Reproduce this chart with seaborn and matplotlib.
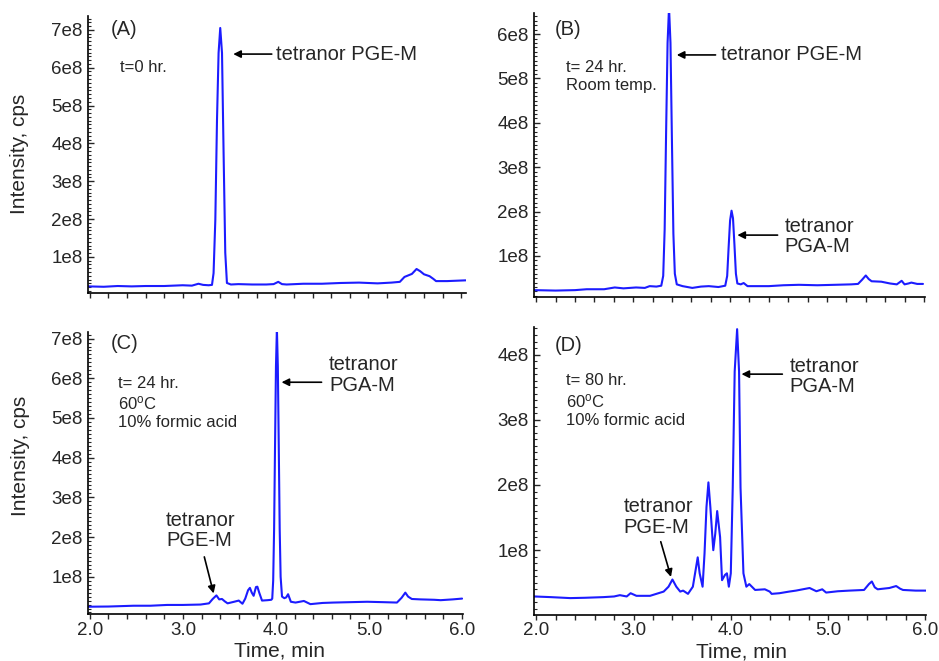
import numpy as np
import pandas as pd
import matplotlib
matplotlib.use("Agg")
import matplotlib.pyplot as plt
from matplotlib.ticker import MultipleLocator, FuncFormatter
import seaborn as sns

# chromatogram traces (time in min, intensity in 1e8 cps)
time_a = [1.98, 2.15, 2.30, 2.45, 2.60, 2.80, 3.00, 3.10, 3.17, 3.22, 3.28, 3.316, 3.333, 3.352, 3.370,
          3.387, 3.405, 3.424, 3.441, 3.459, 3.477, 3.52, 3.60, 3.75, 3.90, 3.98, 4.03, 4.07, 4.12,
          4.30, 4.50, 4.70, 4.90, 5.10, 5.25, 5.34, 5.39, 5.44, 5.47, 5.52, 5.56, 5.60, 5.66, 5.70,
          5.73, 5.85, 5.95, 6.05]
int_a = [0.22, 0.21, 0.23, 0.22, 0.23, 0.23, 0.25, 0.24, 0.29, 0.26, 0.25, 0.26, 0.57, 1.98, 4.62,
         6.39, 7.05, 6.39, 3.75, 1.11, 0.31, 0.27, 0.28, 0.27, 0.27, 0.28, 0.34, 0.28, 0.27,
         0.29, 0.29, 0.31, 0.32, 0.30, 0.32, 0.34, 0.47, 0.52, 0.55, 0.68, 0.62, 0.54, 0.49, 0.42,
         0.36, 0.36, 0.37, 0.38]

time_b = [1.98, 2.20, 2.40, 2.52, 2.70, 2.81, 2.90, 3.03, 3.12, 3.17, 3.24, 3.29, 3.31, 3.325, 3.34,
          3.355, 3.37, 3.385, 3.40, 3.415, 3.43, 3.45, 3.51, 3.61, 3.70, 3.78, 3.88, 3.95, 3.97,
          3.985, 4.00, 4.015, 4.03, 4.045, 4.06, 4.075, 4.11, 4.14, 4.18, 4.40, 4.55, 4.71, 4.90,
          5.08, 5.25, 5.32, 5.36, 5.40, 5.43, 5.46, 5.56, 5.65, 5.72, 5.77, 5.80, 5.84, 5.87, 5.93, 5.99]
int_b = [0.23, 0.22, 0.23, 0.25, 0.25, 0.29, 0.27, 0.29, 0.28, 0.32, 0.31, 0.33, 0.55, 1.6, 3.8,
         5.8, 6.6, 5.8, 3.6, 1.5, 0.6, 0.36, 0.32, 0.28, 0.31, 0.32, 0.30, 0.33, 0.55,
         1.2, 1.8, 2.02, 1.85, 1.25, 0.6, 0.38, 0.36, 0.39, 0.32, 0.32, 0.34, 0.35, 0.34,
         0.35, 0.36, 0.37, 0.46, 0.56, 0.48, 0.43, 0.42, 0.38, 0.36, 0.44, 0.36, 0.38, 0.40, 0.37, 0.37]

time_c = [1.97, 2.20, 2.47, 2.65, 2.83, 3.00, 3.19, 3.28, 3.32, 3.36, 3.39, 3.42, 3.45, 3.48, 3.55,
          3.60, 3.64, 3.67, 3.70, 3.72, 3.74, 3.76, 3.785, 3.80, 3.82, 3.85, 3.91, 3.95, 3.96, 3.97,
          3.98, 3.99, 4.00, 4.01, 4.02, 4.03, 4.04, 4.05, 4.065, 4.09, 4.11, 4.13, 4.16, 4.21, 4.30,
          4.37, 4.50, 4.62, 4.80, 4.98, 5.15, 5.30, 5.35, 5.39, 5.42, 5.46, 5.55, 5.70, 5.77, 5.90, 6.00]
int_c = [0.245, 0.25, 0.27, 0.27, 0.29, 0.29, 0.30, 0.33, 0.44, 0.53, 0.43, 0.44, 0.38, 0.33, 0.37,
         0.40, 0.32, 0.45, 0.66, 0.72, 0.60, 0.52, 0.74, 0.75, 0.60, 0.40, 0.41, 0.42, 0.45, 0.9,
         2.2, 4.3, 6.3, 7.25, 6.3, 4.3, 2.2, 1.0, 0.5, 0.46, 0.48, 0.56, 0.37, 0.35, 0.39,
         0.31, 0.34, 0.35, 0.36, 0.37, 0.36, 0.35, 0.47, 0.60, 0.50, 0.44, 0.43, 0.42, 0.41, 0.43, 0.45]

time_d = [1.98, 2.15, 2.35, 2.50, 2.69, 2.80, 2.86, 2.93, 2.97, 3.03, 3.17, 3.31, 3.36, 3.40, 3.44,
          3.48, 3.51, 3.56, 3.61, 3.66, 3.68, 3.71, 3.73, 3.75, 3.77, 3.79, 3.82, 3.84, 3.86, 3.89,
          3.91, 3.94, 3.96, 3.98, 4.00, 4.02, 4.04, 4.065, 4.085, 4.10, 4.13, 4.16, 4.19, 4.25, 4.35,
          4.40, 4.42, 4.50, 4.60, 4.67, 4.81, 4.88, 4.94, 4.98, 5.10, 5.22, 5.37, 5.42, 5.45, 5.48,
          5.51, 5.63, 5.70, 5.74, 5.77, 5.90, 6.01]
int_d = [0.29, 0.28, 0.265, 0.27, 0.28, 0.29, 0.31, 0.29, 0.34, 0.30, 0.30, 0.365, 0.44, 0.55, 0.44,
         0.365, 0.38, 0.33, 0.44, 0.89, 0.645, 0.44, 0.95, 1.66, 2.04, 1.66, 1.0, 1.25, 1.60, 1.20,
         0.54, 0.62, 0.645, 0.44, 0.645, 1.96, 3.74, 4.39, 3.74, 1.96, 0.645, 0.44, 0.48, 0.39, 0.40,
         0.365, 0.33, 0.34, 0.365, 0.38, 0.42, 0.37, 0.40, 0.35, 0.37, 0.38, 0.39, 0.48, 0.52, 0.43,
         0.40, 0.42, 0.45, 0.41, 0.39, 0.38, 0.38]

panel_labels = ["(A)", "(B)", "(C)", "(D)"]
conditions = ["t=0 hr.", "t= 24 hr.\nRoom temp.",
              "t= 24 hr.\n60$^{\\rm o}$C\n10% formic acid",
              "t= 80 hr.\n60$^{\\rm o}$C\n10% formic acid"]
ylims = [(0.05, 7.37), (0.08, 6.47), (0.06, 7.17), (0.01, 4.42)]
xlims = [(1.98, 6.05), (1.98, 6.01), (1.98, 6.01), (1.98, 6.01)]
y_ticks = [range(1, 8), range(1, 7), range(1, 8), range(1, 5)]

sns.set_theme(style="ticks")
plt.rcParams['font.family'] = ['Liberation Sans', 'DejaVu Sans']
plt.rcParams['mathtext.fontset'] = 'custom'
plt.rcParams['mathtext.rm'] = 'Liberation Sans'
plt.rcParams['mathtext.it'] = 'Liberation Sans'

fig = plt.figure(figsize=(9.39, 6.61), dpi=100)
boxes = [[0.0937, 0.557, 0.4023, 0.419], [0.569, 0.551, 0.416, 0.429],
         [0.0937, 0.071, 0.3994, 0.427], [0.569, 0.070, 0.4175, 0.435]]
axs = [fig.add_axes(b) for b in boxes]

traces = [(time_a, int_a), (time_b, int_b), (time_c, int_c), (time_d, int_d)]
line_blue = '#1c1cff'

for i, ax in enumerate(axs):
    df = pd.DataFrame({"time": traces[i][0], "intensity": np.array(traces[i][1]) * 1e8})
    sns.lineplot(data=df, x="time", y="intensity", ax=ax, color=line_blue, lw=1.5, estimator=None)
    ax.set_xlim(*xlims[i])
    ax.set_ylim(ylims[i][0] * 1e8, ylims[i][1] * 1e8)
    ax.set_yticks([v * 1e8 for v in y_ticks[i]])
    ax.yaxis.set_major_formatter(FuncFormatter(lambda v, p: f"{int(round(v / 1e8))}e8"))
    ax.yaxis.set_minor_locator(MultipleLocator(1e7))
    ax.xaxis.set_major_locator(MultipleLocator(1.0))
    ax.xaxis.set_minor_locator(MultipleLocator(0.2))
    ax.xaxis.set_major_formatter(FuncFormatter(lambda v, p: f"{v:.1f}"))
    ax.tick_params(axis='y', which='major', direction='in', length=4, width=1, labelsize=13.5, pad=4)
    ax.tick_params(axis='y', which='minor', direction='in', length=2, width=0.8)
    ax.tick_params(axis='x', which='both', direction='out', length=3.5, width=1, labelsize=13.5, pad=2)
    sns.despine(ax=ax)
    for s in ['left', 'bottom']:
        ax.spines[s].set_color('black')
        ax.spines[s].set_linewidth(1.2)
    ax.set_xlabel("")
    ax.set_ylabel("")
    if i < 2:
        ax.tick_params(axis='x', labelbottom=False)
    else:
        ax.set_xlabel("Time, min", fontsize=15)
    if i % 2 == 0:
        ax.set_ylabel("Intensity, cps", fontsize=15)

axs[0].yaxis.set_label_coords(-0.155, 0.5)
axs[2].yaxis.set_label_coords(-0.155, 0.56)
axs[2].xaxis.set_label_coords(0.51, -0.098)
axs[3].xaxis.set_label_coords(0.528, -0.095)

# panel letters and conditions
label_pos = [(2.22, 7.0), (2.195, 6.10), (2.22, 6.87), (2.195, 4.14)]
cond_pos = [(2.32, 6.0), (2.31, 5.05), (2.30, 5.38), (2.31, 3.29)]
for i, ax in enumerate(axs):
    ax.text(label_pos[i][0], label_pos[i][1] * 1e8, panel_labels[i], fontsize=14.5, va='center', ha='left')
    ax.text(cond_pos[i][0], cond_pos[i][1] * 1e8, conditions[i], fontsize=12, va='center', ha='left',
            linespacing=1.25)

# peak annotations: (panel, text, text pos, arrow tail, arrow tip)
notes = [
    (0, "tetranor PGE-M", (4.01, 6.36), (3.96, 6.36), (3.545, 6.36)),
    (1, "tetranor PGE-M", (3.91, 5.53), (3.85, 5.53), (3.45, 5.53)),
    (1, "tetranor\nPGA-M", (4.56, 1.44), (4.49, 1.47), (4.075, 1.47)),
    (2, "tetranor\nPGA-M", (4.57, 6.08), (4.49, 5.90), (4.06, 5.90)),
    (2, "tetranor\nPGE-M", (2.82, 2.17), (3.23, 1.50), (3.33, 0.58)),
    (3, "tetranor\nPGA-M", (4.605, 3.66), (4.53, 3.70), (4.11, 3.70)),
    (3, "tetranor\nPGE-M", (2.90, 1.51), (3.28, 1.13), (3.385, 0.59)),
]
for k, txt, tpos, tail, tip in notes:
    ax = axs[k]
    ax.text(tpos[0], tpos[1] * 1e8, txt, fontsize=14.5, va='center', ha='left', linespacing=1.1)
    ax.annotate("", xy=(tip[0], tip[1] * 1e8), xytext=(tail[0], tail[1] * 1e8),
                arrowprops=dict(arrowstyle='-|>', color='black', lw=1.2, mutation_scale=11,
                                shrinkA=0, shrinkB=0))

fig.savefig("out.png", dpi=100, facecolor='white')
